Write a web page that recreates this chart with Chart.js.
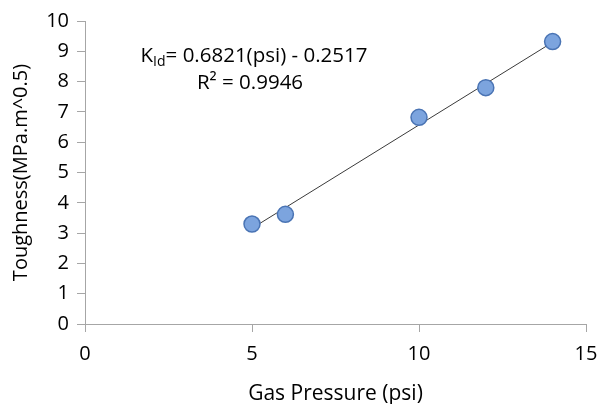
<!DOCTYPE html>
<html>
<head>
<meta charset="utf-8">
<script src="https://cdn.jsdelivr.net/npm/chart.js@4.4.0/dist/chart.umd.min.js"></script>
<style>
  html, body { margin: 0; padding: 0; background: #fff; }
</style>
</head>
<body>
<canvas id="toughnessChart" width="600" height="404"></canvas>
<script>
const pressure = [5, 6, 10, 12, 14];
const toughness = [3.3, 3.62, 6.82, 7.8, 9.32];

// trendline as printed on the chart
const slope = 0.6821;
const intercept = -0.2517;
const trendX = [5, 14];

const xTicks = [0, 5, 10, 15];
const yTicks = [0, 1, 2, 3, 4, 5, 6, 7, 8, 9, 10];

const font = "'Open Sans', 'Noto Sans', sans-serif";

const equationLabel = {
    id: "equationLabel",
    afterDraw(chart) {
        const c = chart.ctx;
        c.save();
        c.fillStyle = "#000";
        c.textBaseline = "alphabetic";
        c.textAlign = "left";

        const big = "20.5px " + font;
        const small = "14px " + font;
        const rest = "= " + slope.toFixed(4) + "(psi) - " + Math.abs(intercept).toFixed(4);

        c.font = big;
        const wK = c.measureText("K").width;
        const wRest = c.measureText(rest).width;
        c.font = small;
        const wSub = c.measureText("Id").width;

        const cx = 254;
        let x = cx - (wK + wSub + wRest) / 2;
        const y1 = 62;
        c.font = big;
        c.fillText("K", x, y1);
        x += wK;
        c.font = small;
        c.fillText("Id", x, y1 + 4);
        x += wSub;
        c.font = big;
        c.fillText(rest, x, y1);

        c.textAlign = "center";
        c.fillText("R\u00B2 = 0.9946", 250, 89);
        c.restore();
    }
};

new Chart(document.getElementById("toughnessChart"), {
    type: "scatter",
    data: {
        datasets: [
            {
                label: "Trend",
                type: "line",
                data: trendX.map(x => ({ x: x, y: slope * x + intercept })),
                borderColor: "#3a3a3a",
                borderWidth: 1,
                pointRadius: 0,
                fill: false,
                order: 2
            },
            {
                label: "Toughness",
                data: pressure.map((x, i) => ({ x: x, y: toughness[i] })),
                backgroundColor: "rgb(124,164,222)",
                borderColor: "rgb(74,116,180)",
                borderWidth: 1.5,
                pointRadius: 8,
                order: 1
            }
        ]
    },
    options: {
        responsive: false,
        animation: false,
        layout: {
            padding: { top: 21, right: 14, left: 0, bottom: 0 }
        },
        plugins: {
            legend: { display: false },
            tooltip: { enabled: false }
        },
        scales: {
            x: {
                type: "linear",
                min: 0,
                max: 15,
                afterBuildTicks: s => { s.ticks = xTicks.map(v => ({ value: v })); },
                afterFit: s => { s.height = 80; s.paddingRight = 0; s.paddingLeft = 0; },
                border: { display: true, color: "#a6a6a6", width: 1 },
                grid: { drawOnChartArea: false, drawTicks: true, tickLength: 8, color: "#a6a6a6" },
                ticks: { color: "#000", font: { family: font, size: 20 }, padding: 10, maxRotation: 0 },
                title: {
                    display: true,
                    text: "Gas Pressure (psi)",
                    color: "#000",
                    font: { family: font, size: 21 },
                    padding: { top: 0, bottom: -3 }
                }
            },
            y: {
                type: "linear",
                min: 0,
                max: 10,
                afterBuildTicks: s => { s.ticks = yTicks.map(v => ({ value: v })); },
                afterFit: s => { s.width = 85; },
                border: { display: true, color: "#a6a6a6", width: 1 },
                grid: { drawOnChartArea: false, drawTicks: true, tickLength: 8, color: "#a6a6a6" },
                ticks: { color: "#000", font: { family: font, size: 20 }, padding: 8 },
                title: {
                    display: true,
                    text: "Toughness(MPa.m^0.5)",
                    color: "#000",
                    font: { family: font, size: 20 },
                    padding: { top: 9, bottom: 0 }
                }
            }
        }
    },
    plugins: [equationLabel]
});
</script>
</body>
</html>
